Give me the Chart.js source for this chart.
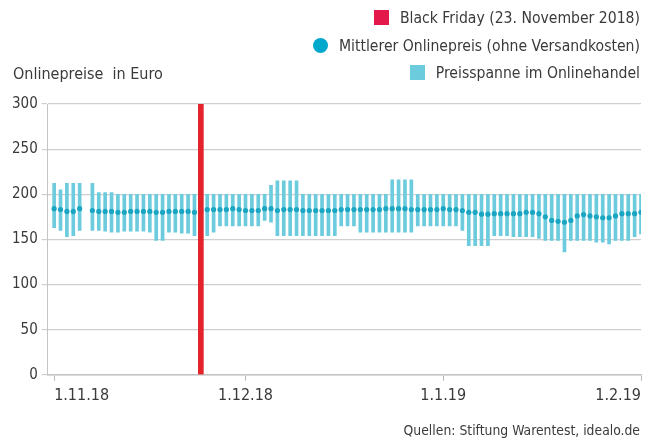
<!DOCTYPE html>
<html>
<head>
<meta charset="utf-8">
<script src="https://cdn.jsdelivr.net/npm/chart.js@4.4.1/dist/chart.umd.min.js"></script>
<style>
  body { margin: 0; background: #fff; }
  #wrap { position: relative; width: 656px; height: 440px; font-family: "Liberation Sans Narrow", "DejaVu Sans Condensed", sans-serif; color: #3a3a3a; }
  #chart { position: absolute; left: 0; top: 0; }
  .legend { position: absolute; right: 16px; top: 5px; font-size: 15.6px; line-height: 27.5px; text-align: right; }
  .legend span.sw { display: inline-block; width: 15px; height: 15px; margin-right: 11px; vertical-align: -2px; }
  .legend span.dot { display: inline-block; width: 15px; height: 15px; border-radius: 50%; margin-right: 11px; vertical-align: -2px; }
  .ytitle { position: absolute; left: 13px; top: 64px; font-size: 16px; }
  .source { position: absolute; right: 16px; top: 422px; font-size: 13.8px; }
</style>
</head>
<body>
<div id="wrap">
  <canvas id="chart" width="656" height="440"></canvas>
  <div class="legend">
    <div><span class="sw" style="background:#e2194a"></span>Black Friday (23. November 2018)</div>
    <div><span class="dot" style="background:#00a8cc"></span>Mittlerer Onlinepreis (ohne Versandkosten)</div>
    <div><span class="sw" style="background:#6ccbdc"></span>Preisspanne im Onlinehandel</div>
  </div>
  <div class="ytitle">Onlinepreise&nbsp; in Euro</div>
  <div class="source">Quellen: Stiftung Warentest, idealo.de</div>
</div>
<script>
// days counted from 1.11.18 (one missing day at index 5)
var days = [];
for (var d = 0; d <= 92; d++) days.push(d);

var priceMin = [163,160,153,154,160,null,160,160,159,158,158,159,159,159,159,158,149,149,158,158,
  157,157,154,154,154,158,165,165,165,165,165,165,165,171,169,154,154,154,154,154,
  154,154,154,154,154,165,165,165,158,158,158,158,158,158,158,158,158,165,165,165,
  165,165,165,165,160,143,143,143,143,154,154,154,153,153,153,153,151,149,149,149,
  136,149,149,149,149,147,147,145,149,149,149,153,156];
var priceMax = [212,205,212,212,212,null,212,202,202,202,200,200,200,200,200,200,200,200,200,200,
  200,200,200,200,200,200,200,200,200,200,200,200,200,200,210,215,215,215,215,200,
  200,200,200,200,200,200,200,200,200,200,200,200,200,216,216,216,216,200,200,200,
  200,200,200,200,200,200,200,200,200,200,200,200,200,200,200,200,200,200,200,200,
  200,200,200,200,200,200,200,200,200,200,200,200,200];
var priceMean = [184,183,181,181,184,null,182,181,181,181,180,180,181,181,181,181,180,180,181,181,
  181,181,180,181,183,183,183,183,184,183,182,182,182,184,184,182,183,183,183,182,
  182,182,182,182,182,183,183,183,183,183,183,183,184,184,184,184,183,183,183,183,
  183,184,183,183,182,180,180,178,178,178.5,178.5,178.5,178.5,178.5,180,180,178.5,175,171,170,
  169,171,176,177.5,176,175,174,174,176,178.5,178.5,178.5,180];

var blackFridayDay = 23;
var tickDays = [0, 30, 61, 92];
var tickLabels = ['1.11.18', '1.12.18', '1.1.19', '1.2.19'];

var rangeData = [], meanData = [];
days.forEach(function (d, i) {
  if (priceMin[i] !== null) rangeData.push({ x: d, y: [priceMin[i], priceMax[i]] });
  if (priceMean[i] !== null) meanData.push({ x: d, y: priceMean[i] });
});

var font = { family: '"Liberation Sans Narrow", "DejaVu Sans Condensed", sans-serif' };

new Chart(document.getElementById('chart').getContext('2d'), {
  data: {
    datasets: [{
      type: 'scatter',
      data: meanData,
      pointRadius: 2.6,
      pointBackgroundColor: '#1aa6c2',
      pointBorderWidth: 0,
      order: 1
    }, {
      type: 'bar',
      data: [{ x: blackFridayDay, y: [0, 300] }],
      backgroundColor: '#e3222a',
      barThickness: 5,
      grouped: false,
      order: 0
    }, {
      type: 'bar',
      data: rangeData,
      backgroundColor: '#6ccbdc',
      barThickness: 3,
      grouped: false,
      order: 2
    }]
  },
  options: {
    responsive: false,
    animation: false,
    layout: { padding: { left: 8, right: 15, top: 104, bottom: 30 } },
    plugins: { legend: { display: false }, tooltip: { enabled: false } },
    scales: {
      x: {
        type: 'linear',
        offset: false,
        min: -1,
        max: 92,
        afterBuildTicks: function (axis) {
          axis.ticks = tickDays.map(function (v) { return { value: v }; });
        },
        ticks: {
          align: 'inner',
          autoSkip: false,
          maxRotation: 0,
          padding: 5,
          color: '#3a3a3a',
          font: Object.assign({ size: 16 }, font),
          callback: function (v) { return tickLabels[tickDays.indexOf(v)]; }
        },
        grid: { offset: false, drawOnChartArea: false, tickLength: 6, color: '#b8b8b8' },
        border: { color: '#c4c4c4', width: 1.5 }
      },
      y: {
        min: 0,
        max: 300,
        ticks: {
          stepSize: 50,
          padding: 4,
          color: '#3a3a3a',
          font: Object.assign({ size: 15 }, font)
        },
        grid: { color: '#cfcfcf', tickLength: 6, lineWidth: 1.2 },
        border: { color: '#c4c4c4' }
      }
    }
  }
});
</script>
</body>
</html>
